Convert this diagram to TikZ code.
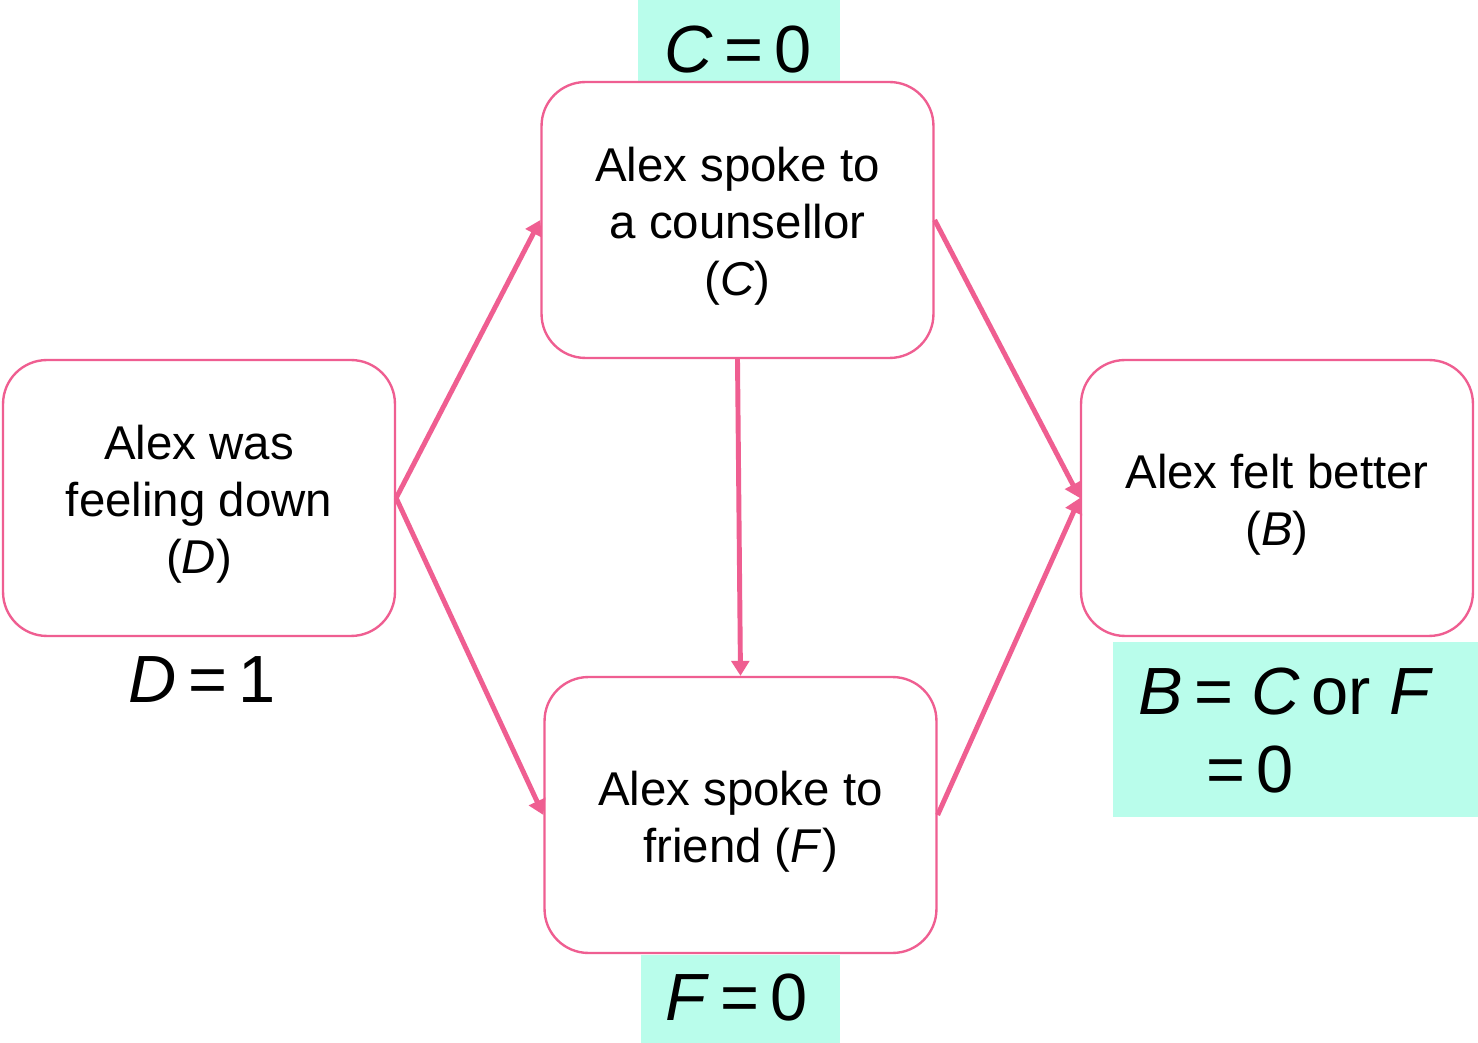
\documentclass[tikz,border=0pt]{standalone}
\usepackage{fontspec}
\setmainfont{Liberation Sans}
\usetikzlibrary{arrows.meta}
\definecolor{pinkline}{RGB}{239,94,145}
\definecolor{aqua}{RGB}{185,253,235}
\tikzset{
  box/.style={draw=pinkline, line width=1.35pt, rounded corners=25pt, minimum width=7.84cm, minimum height=5.52cm, fill=white},
  txt/.style={align=center, font=\fontsize{27}{32.5}\selectfont, inner sep=0pt},
  link/.style={draw=pinkline, line width=2.8pt, -{Triangle[length=8.5pt,width=10pt]}},
  lab/.style={font=\fontsize{38}{46}\selectfont, inner sep=0pt},
  patch/.style={fill=aqua, draw=none}
}
\begin{document}
\begin{tikzpicture}[x=0.02cm,y=-0.02cm]
\useasboundingbox (0,0) rectangle (1478,1043);
\fill[white] (0,0) rectangle (1478,1043);
% aqua patches
\path[patch] (638,0) rectangle (840,82);
\path[patch] (641,955) rectangle (840,1043);
\path[patch] (1113,642) rectangle (1478,817);
% boxes
\node[box] (D) at (199,498) {};
\node[box] (C) at (737.5,220) {};
\node[box] (F) at (740.5,815) {};
\node[box] (B) at (1277,498) {};
\node[txt] (Dt) at ([yshift=-0.12cm]D.center) {Alex was\\feeling down\\(\textit{D})};
\node[txt] (Ct) at ([yshift=-0.13cm]C.center) {Alex spoke to\\a counsellor\\(\textit{C})};
\node[txt] (Ft) at ([yshift=-0.14cm]F.center) {Alex spoke to\\friend (\textit{F})};
\node[txt] (Bt) at ([yshift=-0.13cm]B.center) {Alex felt better\\(\textit{B})};
% labels
\node[lab] (lc) at (738,50) {\textit{C}\,=\,0};
\node[lab] (ld) at (202,680) {\textit{D}\,=\,1};
\node[lab] (lf) at (737,998) {\textit{F}\,=\,0};
\node[lab] (lb1) at (1286,692) {\textit{B}\,=\;\textit{C}\,or\ \textit{F}};
\node[lab] (lb2) at (1250,770) {=\,0};
% connectors
\draw[link] (D.east) -- (C.west);
\draw[link] (D.east) -- (F.west);
\draw[link] (C.south) -- (F.north);
\draw[link] (C.east) -- (B.west);
\draw[link] (F.east) -- (B.west);
\end{tikzpicture}
\end{document}
